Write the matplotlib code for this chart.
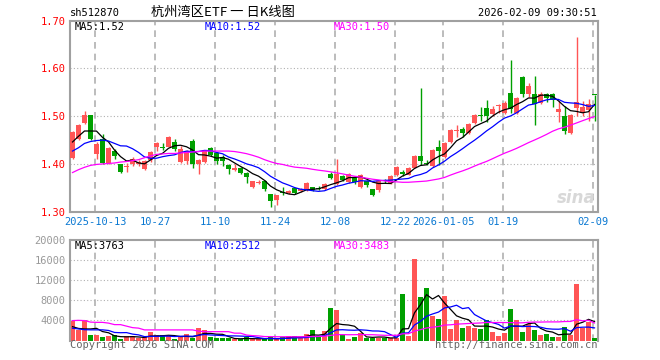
import matplotlib
matplotlib.use('Agg')
import matplotlib.pyplot as plt
import numpy as np
import pandas as pd

plt.rcParams['font.family'] = ['DejaVu Sans Mono', 'Noto Sans CJK SC']

# daily bars, 2025-09-29 .. 2026-02-09 (88 sessions)
opens = [1.413, 1.452, 1.485, 1.502, 1.420, 1.452, 1.401, 1.428, 1.399, 1.394,
         1.399, 1.400, 1.390, 1.408, 1.436, 1.436, 1.436, 1.445, 1.404, 1.406,
         1.448, 1.399, 1.405, 1.433, 1.423, 1.415, 1.397, 1.388, 1.392, 1.382,
         1.352, 1.361, 1.364, 1.337, 1.324, 1.341, 1.339, 1.349, 1.344, 1.345,
         1.351, 1.349, 1.347, 1.379, 1.358, 1.375, 1.362, 1.372, 1.351, 1.364,
         1.347, 1.345, 1.366, 1.360, 1.377, 1.384, 1.377, 1.392, 1.416, 1.401,
         1.395, 1.436, 1.415, 1.445, 1.470, 1.474, 1.465, 1.486, 1.502, 1.518,
         1.504, 1.522, 1.506, 1.549, 1.506, 1.583, 1.546, 1.546, 1.528, 1.547,
         1.547, 1.509, 1.500, 1.464, 1.518, 1.506, 1.512, 1.545]
highs = [1.468, 1.483, 1.510, 1.503, 1.445, 1.463, 1.435, 1.431, 1.400, 1.401,
         1.415, 1.408, 1.408, 1.428, 1.447, 1.444, 1.458, 1.452, 1.438, 1.430,
         1.452, 1.410, 1.430, 1.435, 1.425, 1.418, 1.399, 1.400, 1.393, 1.384,
         1.365, 1.366, 1.366, 1.338, 1.336, 1.351, 1.346, 1.350, 1.350, 1.362,
         1.352, 1.353, 1.361, 1.384, 1.411, 1.377, 1.381, 1.374, 1.380, 1.366,
         1.348, 1.366, 1.369, 1.377, 1.396, 1.387, 1.393, 1.418, 1.560, 1.408,
         1.431, 1.450, 1.445, 1.473, 1.481, 1.478, 1.485, 1.504, 1.520, 1.534,
         1.521, 1.525, 1.532, 1.618, 1.540, 1.584, 1.569, 1.584, 1.550, 1.549,
         1.549, 1.532, 1.521, 1.505, 1.6665, 1.532, 1.536, 1.545]
lows = [1.410, 1.450, 1.483, 1.450, 1.410, 1.400, 1.399, 1.410, 1.381, 1.384,
        1.396, 1.396, 1.388, 1.405, 1.428, 1.430, 1.435, 1.427, 1.402, 1.400,
        1.392, 1.380, 1.403, 1.417, 1.399, 1.396, 1.379, 1.386, 1.380, 1.360,
        1.350, 1.357, 1.343, 1.310, 1.315, 1.336, 1.337, 1.337, 1.342, 1.344,
        1.344, 1.345, 1.345, 1.368, 1.356, 1.365, 1.360, 1.358, 1.349, 1.352,
        1.332, 1.342, 1.360, 1.358, 1.375, 1.375, 1.376, 1.391, 1.398, 1.397,
        1.393, 1.398, 1.413, 1.444, 1.457, 1.456, 1.463, 1.484, 1.490, 1.488,
        1.500, 1.506, 1.504, 1.506, 1.504, 1.541, 1.541, 1.481, 1.525, 1.530,
        1.520, 1.488, 1.463, 1.462, 1.500, 1.500, 1.490, 1.490]
closes = [1.467, 1.481, 1.502, 1.452, 1.442, 1.401, 1.434, 1.416, 1.384, 1.396,
          1.411, 1.404, 1.406, 1.425, 1.443, 1.433, 1.457, 1.432, 1.431, 1.427,
          1.399, 1.408, 1.429, 1.419, 1.406, 1.406, 1.389, 1.391, 1.382, 1.373,
          1.364, 1.362, 1.347, 1.322, 1.335, 1.339, 1.343, 1.339, 1.347, 1.361,
          1.345, 1.348, 1.359, 1.370, 1.380, 1.367, 1.380, 1.362, 1.377, 1.356,
          1.336, 1.364, 1.364, 1.375, 1.393, 1.378, 1.391, 1.416, 1.406, 1.400,
          1.429, 1.427, 1.443, 1.471, 1.472, 1.464, 1.483, 1.502, 1.500, 1.500,
          1.516, 1.524, 1.528, 1.516, 1.538, 1.546, 1.563, 1.526, 1.547, 1.538,
          1.534, 1.515, 1.468, 1.503, 1.530, 1.520, 1.526, 1.544]
volumes = [3850, 2050, 4150, 1000, 1050, 650, 850, 1100, 200, 850,
           850, 530, 600, 1600, 1000, 1000, 1000, 270, 660, 1200,
           530, 2580, 2180, 600, 400, 400, 400, 200, 330, 660,
           270, 270, 270, 660, 270, 600, 930, 930, 530, 1200,
           2000, 660, 1800, 6400, 6000, 1000, 200, 600, 1400, 400,
           530, 530, 530, 530, 530, 9350, 860, 16300, 8650, 10500,
           4970, 4370, 8800, 2380, 4040, 2580, 2850, 2520, 2250, 4170,
           1600, 860, 1400, 6360, 4040, 1600, 3380, 2050, 1000, 1350,
           600, 650, 2705, 1050, 11200, 2500, 3600, 465]

# moving-average values of the first bars (window not yet full)
ma5_head = [1.446, 1.458, 1.469, 1.469]
ma10_head = [1.427, 1.434, 1.443, 1.447, 1.449, 1.450, 1.448, 1.443, 1.438]
ma30_head = [1.382, 1.388, 1.393, 1.397, 1.399, 1.400, 1.401, 1.402, 1.404, 1.405,
             1.407, 1.409, 1.413, 1.417, 1.420, 1.421, 1.422, 1.422, 1.423, 1.424,
             1.425, 1.426, 1.427, 1.427, 1.427, 1.427, 1.427, 1.426, 1.424]
vma5_head = [2750, 2400, 2300, 2300]
vma10_head = [2450, 2300, 2150, 2120, 2120, 2120, 2000, 1600, 1550]
vma30_head = [3960, 4010, 3960, 3660, 3610, 3610, 3460, 3160, 3160, 2860,
              2560, 2460, 2110, 2110, 2110, 2110, 2110, 2110, 2110, 2110,
              2110, 1860, 1760, 1760, 1760, 1760, 1760, 1460, 1460]

date_labels = ['2025-10-13', '10-27', '11-10', '11-24', '12-08', '12-22',
               '2026-01-05', '01-19', '02-09']
date_index = [4, 14, 24, 34, 44, 54, 62, 72, 87]
price_ticks = [1.30, 1.40, 1.50, 1.60, 1.70]
vol_ticks = [4000, 8000, 12000, 16000, 20000]

RED = '#ff5555'
GREEN = '#00a000'
GRID = '#b0b0b0'
FRAME = '#a0a0a0'


def moving_average(values, window, head):
    ma = pd.Series(values, dtype=float).rolling(window).mean()
    ma.iloc[:len(head)] = head
    return ma.values


def box(l, t, r, b):
    return [l / 660, 1 - b / 360, (r - l) / 660, (b - t) / 360]


def style_panel(ax, ylim, yticks, ylabels, ycolor):
    ax.set_xlim(-0.42, 87.58)
    ax.set_ylim(*ylim)
    ax.set_yticks(yticks)
    ax.set_yticklabels(ylabels, color=ycolor, fontsize=7.5)
    ax.tick_params(axis='both', length=0, pad=3)
    for s in ax.spines.values():
        s.set_color(FRAME)
        s.set_linewidth(1.5)
    for v in yticks[:-1]:
        ax.axhline(v, color=GRID, lw=0.8, ls=(0, (1, 2)), zorder=0)
    for i in date_index:
        ax.axvline(i - 0.25, color=GRID, lw=1.2, ls=(0, (4, 3)), zorder=0)


x = np.arange(len(closes))
o = np.array(opens)
c = np.array(closes)
colors = [RED if cl >= op else GREEN for op, cl in zip(opens, closes)]

fig = plt.figure(figsize=(6.6, 3.6), dpi=100)
ax = fig.add_axes(box(70, 20.7, 598, 211.7))
axv = fig.add_axes(box(70, 240, 598, 340.5))

# price panel
style_panel(ax, (1.30, 1.70), price_ticks, ['%.2f' % v for v in price_ticks], 'red')
ax.vlines(x, lows, highs, colors=colors, lw=1, zorder=2)
ax.bar(x, np.maximum(np.abs(c - o), 0.002), bottom=np.minimum(o, c), width=0.8,
       color=colors, zorder=3)
ma5 = moving_average(closes, 5, ma5_head)
ma10 = moving_average(closes, 10, ma10_head)
ma30 = moving_average(closes, 30, ma30_head)
ax.plot(x, ma5, color='black', lw=0.9, zorder=4)
ax.plot(x, ma10, color='#0000ff', lw=0.9, zorder=4)
ax.plot(x, ma30, color='#ff00ff', lw=0.9, zorder=4)
ax.set_xticks([i - 0.25 for i in date_index])
ax.set_xticklabels(date_labels, color='#0a78d2', fontsize=7.5)
ax.tick_params(axis='x', pad=4)

# volume panel
style_panel(axv, (0, 20000), vol_ticks, [str(v) for v in vol_ticks], '#999999')
axv.spines['bottom'].set_visible(False)
axv.set_xticks([])
axv.bar(x, volumes, width=0.8, color=colors, zorder=2)
vma5 = moving_average(volumes, 5, vma5_head)
vma10 = moving_average(volumes, 10, vma10_head)
vma30 = moving_average(volumes, 30, vma30_head)
axv.plot(x, vma5, color='black', lw=0.9, zorder=4)
axv.plot(x, vma10, color='#0000ff', lw=0.9, zorder=4)
axv.plot(x, vma30, color='#ff00ff', lw=0.9, zorder=4)

# legends
def fig_text(px, py, s, **kw):
    kw.setdefault('fontsize', 7.5)
    kw.setdefault('va', 'center')
    fig.text(px / 660, 1 - py / 360, s, **kw)


fig_text(75, 26.5, 'MA5:%.2f' % ma5[-1], color='black')
fig_text(205, 26.5, 'MA10:%.2f' % ma10[-1], color='#0000ff')
fig_text(334, 26.5, 'MA30:%.2f' % ma30[-1], color='#ff00ff')
fig_text(75, 246, 'MA5:%.0f' % vma5[-1], color='black')
fig_text(205, 246, 'MA10:%.0f' % vma10[-1], color='#0000ff')
fig_text(334, 246, 'MA30:%.0f' % vma30[-1], color='#ff00ff')

# header / footer
fig_text(70, 12.5, 'sh512870', color='black')
fig_text(223, 12.5, '杭州湾区ETF 一 日K线图', color='black', ha='center',
         fontsize=9.5, family=['Noto Sans CJK SC', 'DejaVu Sans'])
fig_text(597, 12.5, '2026-02-09 09:30:51', color='black', ha='right')
fig_text(70, 345.5, 'Copyright 2026 SINA.COM', color='#666666')
fig_text(597, 345.5, 'http://finance.sina.com.cn', color='#666666', ha='right')
fig_text(596, 198, 'sina', color='#d8d8d8', ha='right', fontsize=12,
         fontweight='bold', style='italic', family=['DejaVu Sans'])

fig.savefig('out.png', dpi=100)
